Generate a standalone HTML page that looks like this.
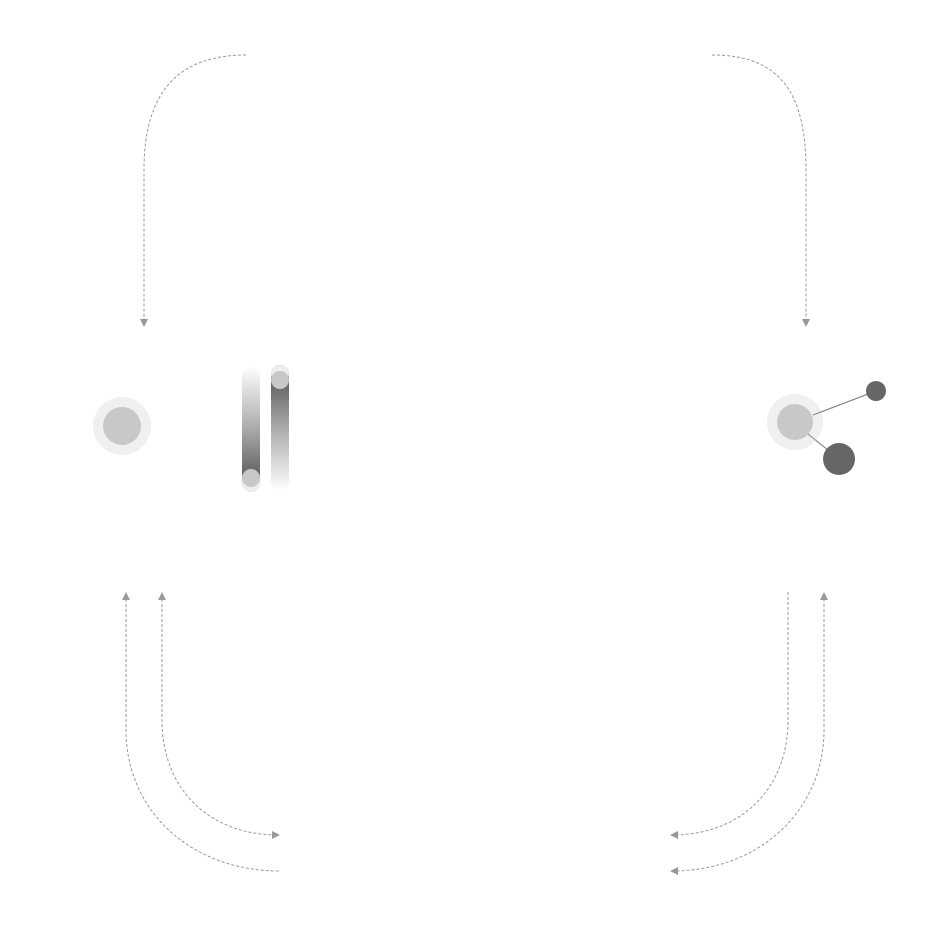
<!DOCTYPE html>
<html><head><style>html,body{margin:0;padding:0;background:#fff}svg{display:block}</style></head>
<body>
<svg width="950" height="943" viewBox="0 0 950 943" xmlns="http://www.w3.org/2000/svg">
<defs>
<linearGradient id="g1" x1="0" y1="0" x2="0" y2="1">
<stop offset="0" stop-color="#fff"/><stop offset="0.5" stop-color="#aaa"/><stop offset="0.85" stop-color="#666"/><stop offset="1" stop-color="#777"/>
</linearGradient>
<linearGradient id="g2" x1="0" y1="0" x2="0" y2="1">
<stop offset="0" stop-color="#777"/><stop offset="0.15" stop-color="#666"/><stop offset="0.5" stop-color="#aaa"/><stop offset="1" stop-color="#fff"/>
</linearGradient>
<marker id="a" markerWidth="8" markerHeight="8" refX="6" refY="4" orient="auto-start-reverse" markerUnits="userSpaceOnUse">
<path d="M0,0 L8,4 L0,8 Z" fill="#999"/>
</marker>
</defs>
<g fill="none" stroke="#999" stroke-width="1" stroke-dasharray="3,2">
<path d="M246,55 C180,55 144,90 144,170 L144,325" marker-end="url(#a)"/>
<path d="M712,55 C778,55 806,90 806,170 L806,325" marker-end="url(#a)"/>
<path d="M126,594 L126,730 C126,810 190,871 280,871" marker-start="url(#a)"/>
<path d="M162,594 L162,720 C162,790 210,835 278,835" marker-start="url(#a)" marker-end="url(#a)"/>
<path d="M788,592 L788,720 C788,790 740,835 672,835" marker-end="url(#a)"/>
<path d="M824,594 L824,730 C824,810 760,871 672,871" marker-start="url(#a)" marker-end="url(#a)"/>
</g>
<circle cx="122" cy="426" r="29" fill="#f0f0f0"/>
<circle cx="122" cy="426" r="19" fill="#c8c8c8"/>
<rect x="242" y="366" width="18" height="126" rx="9" fill="url(#g1)"/>
<circle cx="251" cy="482" r="10" fill="#eee"/>
<circle cx="251" cy="478" r="9" fill="#c8c8c8"/>
<rect x="271" y="365" width="18" height="126" rx="9" fill="url(#g2)"/>
<circle cx="280" cy="374" r="9" fill="#eee"/>
<circle cx="280" cy="380" r="9" fill="#c8c8c8"/>
<line x1="813" y1="415" x2="876" y2="391" stroke="#888" stroke-width="1"/>
<line x1="808" y1="434" x2="839" y2="459" stroke="#888" stroke-width="1"/>
<circle cx="795" cy="422" r="28" fill="#f0f0f0"/>
<circle cx="795" cy="422" r="18" fill="#c8c8c8"/>
<line x1="813" y1="415" x2="876" y2="391" stroke="#888" stroke-width="1"/>
<line x1="808" y1="434" x2="839" y2="459" stroke="#888" stroke-width="1"/>
<circle cx="876" cy="391" r="10" fill="#666"/>
<circle cx="839" cy="459" r="16" fill="#666"/>
</svg>
</body></html>
